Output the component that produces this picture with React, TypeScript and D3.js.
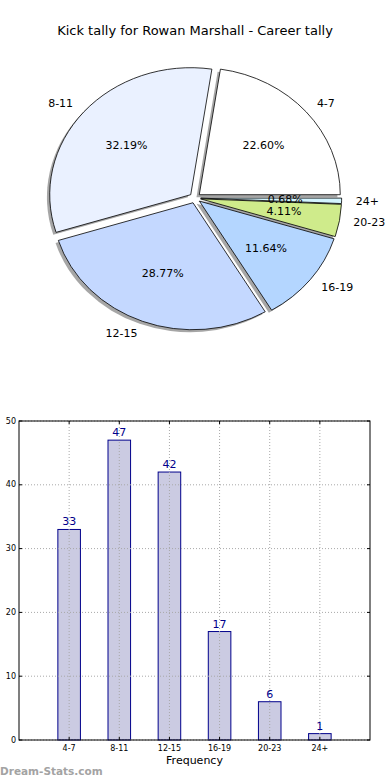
import React from 'react';
import * as d3 from 'd3';

const categories = ['4-7', '8-11', '12-15', '16-19', '20-23', '24+'];
const counts = [33, 47, 42, 17, 6, 1];
const sliceColors = ['#ffffff', '#eaf1ff', '#c4d8ff', '#b4d6ff', '#cfeb8b', '#d4f5ff'];
const yTicks = [0, 10, 20, 30, 40, 50];

const W = 390;
const H = 780;
const FONT = 'DejaVu Sans, sans-serif';

// pie is an ellipse (matplotlib axes without equal aspect)
const cx = 195;
const cy = 198;
const rx = 141;
const ry = 127;
const explode = 0.04;

const Pie = () => {
  const total = d3.sum(counts);
  const arcs = d3.pie<number>().sort(null).value(d => d)
    .startAngle(Math.PI / 2).endAngle(Math.PI / 2 - 2 * Math.PI)(counts);
  const arc = d3.arc<d3.PieArcDatum<number>>().innerRadius(0).outerRadius(rx);
  const sy = ry / rx;

  const mid = (a: d3.PieArcDatum<number>) => (a.startAngle + a.endAngle) / 2;
  const offset = (a: d3.PieArcDatum<number>) => {
    const m = mid(a);
    return [explode * rx * Math.sin(m), -explode * rx * Math.cos(m)];
  };

  return (
    <g>
      {/* shadows */}
      <g transform={`translate(${cx - 2.8},${cy + 2.5}) scale(1,${sy})`}>
        {arcs.map((a, i) => {
          const [dx, dy] = offset(a);
          return (
            <path key={i} d={arc(a) || ''} transform={`translate(${dx},${dy})`}
              fill="#4d4d4d" fillOpacity={0.5} stroke="none" />
          );
        })}
      </g>
      <g transform={`translate(${cx},${cy}) scale(1,${sy})`}>
        {arcs.map((a, i) => {
          const [dx, dy] = offset(a);
          return (
            <path key={i} d={arc(a) || ''} transform={`translate(${dx},${dy})`}
              fill={sliceColors[i]} stroke="#000" strokeWidth={0.8}
              vectorEffect="non-scaling-stroke" />
          );
        })}
      </g>
      {arcs.map((a, i) => {
        const m = mid(a);
        const s = Math.sin(m);
        const c = Math.cos(m);
        const lx = cx + (explode + 1.1) * rx * s;
        const ly = cy - (explode + 1.1) * ry * c;
        const px = cx + (explode + 0.6) * rx * s;
        const py = cy - (explode + 0.6) * ry * c;
        return (
          <g key={i} fontFamily={FONT} fontSize={11} fill="#000">
            <text x={lx} y={ly} textAnchor={s > 0 ? 'start' : 'end'} dominantBaseline="central">
              {categories[i]}
            </text>
            <text x={px} y={py} textAnchor="middle" dominantBaseline="central">
              {((counts[i] / total) * 100).toFixed(2) + '%'}
            </text>
          </g>
        );
      })}
    </g>
  );
};

const Bars = () => {
  const left = 19;
  const right = 370;
  const top = 421;
  const bottom = 740;
  const x = d3.scaleLinear().domain([-1, categories.length]).range([left, right]);
  const y = d3.scaleLinear().domain([0, 50]).range([bottom, top]);
  const bw = x(0.45) - x(0);

  return (
    <g fontFamily={FONT}>
      {counts.map((v, i) => (
        <rect key={i} x={x(i) - bw / 2} y={y(v)} width={bw} height={y(0) - y(v)}
          fill="#cbcbe2" stroke="#00008b" strokeWidth={1} />
      ))}
      {/* grid */}
      {yTicks.map(t => (
        <line key={'gy' + t} x1={left} x2={right} y1={y(t)} y2={y(t)}
          stroke="#a8a8a8" strokeWidth={1} strokeDasharray="1,2" />
      ))}
      {categories.map((c, i) => (
        <line key={'gx' + c} x1={x(i)} x2={x(i)} y1={top} y2={bottom}
          stroke="#a8a8a8" strokeWidth={1} strokeDasharray="1,2" />
      ))}
      {/* ticks */}
      {yTicks.map(t => (
        <g key={'ty' + t}>
          <line x1={left} x2={left + 3} y1={y(t)} y2={y(t)} stroke="#000" />
          <line x1={right - 3} x2={right} y1={y(t)} y2={y(t)} stroke="#000" />
          <text x={left - 3} y={y(t)} textAnchor="end" dominantBaseline="central"
            fontSize={8} fill="#000">{t}</text>
        </g>
      ))}
      {categories.map((c, i) => (
        <g key={'tx' + c}>
          <line x1={x(i)} x2={x(i)} y1={bottom} y2={bottom - 3} stroke="#000" />
          <line x1={x(i)} x2={x(i)} y1={top} y2={top + 3} stroke="#000" />
          <text x={x(i)} y={bottom + 11} textAnchor="middle" fontSize={8} fill="#000">{c}</text>
        </g>
      ))}
      <rect x={left} y={top} width={right - left} height={bottom - top}
        fill="none" stroke="#000" strokeWidth={1} />
      {counts.map((v, i) => (
        <text key={'v' + i} x={x(i)} y={y(v) - 4} textAnchor="middle" fontSize={11}
          fill="#00008b">{v}</text>
      ))}
      <text x={(left + right) / 2} y={764} textAnchor="middle" fontSize={11} fill="#000">
        Frequency
      </text>
    </g>
  );
};

export default function App() {
  return (
    <svg width={W} height={H} style={{ position: 'absolute', left: 0, top: 0, background: '#fff' }}>
      <rect width={W} height={H} fill="#fff" />
      <text x={195} y={35} textAnchor="middle" fontFamily={FONT} fontSize={13} fill="#000">
        Kick tally for Rowan Marshall - Career tally
      </text>
      <Pie />
      <Bars />
      <text x={0} y={775} fontFamily={FONT} fontSize={10.5} fontWeight="bold" fill="#a3a3a3">
        Dream-Stats.com
      </text>
    </svg>
  );
}
